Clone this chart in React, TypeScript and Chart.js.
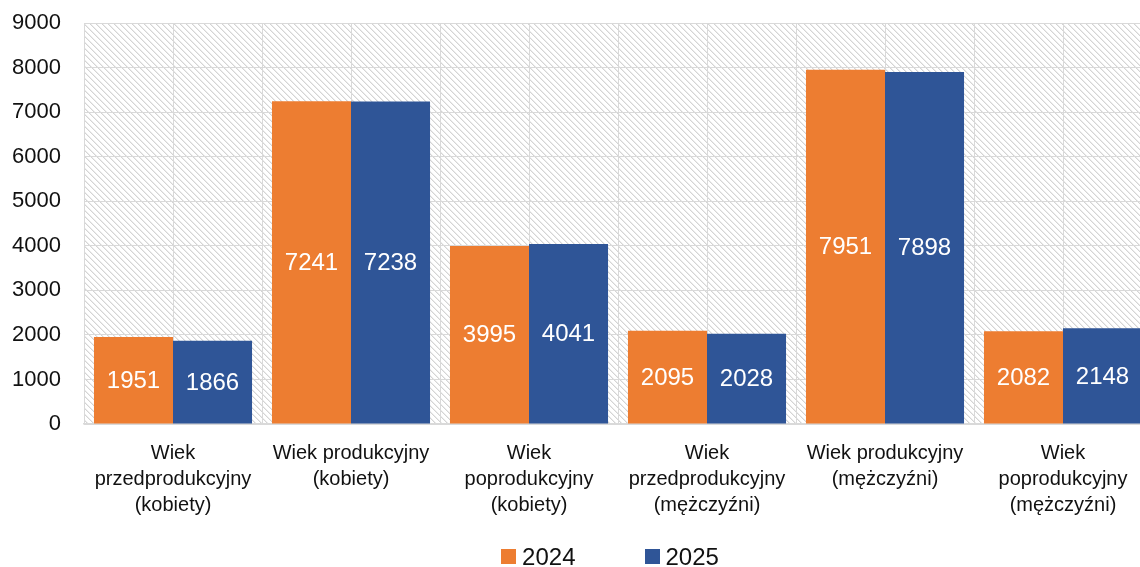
import React, { useEffect, useRef } from 'react';
import { Chart, registerables } from 'chart.js';

Chart.register(...registerables);

const categories: string[][] = [
  ['Wiek', 'przedprodukcyjny', '(kobiety)'],
  ['Wiek produkcyjny', '(kobiety)'],
  ['Wiek', 'poprodukcyjny', '(kobiety)'],
  ['Wiek', 'przedprodukcyjny', '(mężczyźni)'],
  ['Wiek produkcyjny', '(mężczyźni)'],
  ['Wiek', 'poprodukcyjny', '(mężczyźni)'],
];
const seriesLabels = ['2024', '2025'];
const values2024 = [1951, 7241, 3995, 2095, 7951, 2082];
const values2025 = [1866, 7238, 4041, 2028, 7898, 2148];
const seriesColors = ['#ED7D31', '#2F5597'];
const yMin = 0;
const yMax = 9000;
const yStep = 1000;

const FONT = "'Liberation Sans', Arial, sans-serif";
const GRID = '#D9D9D9';
const TEXT = '#111111';

function makePattern(ctx: CanvasRenderingContext2D) {
  const size = 6;
  const c = document.createElement('canvas');
  c.width = size;
  c.height = size;
  const pc = c.getContext('2d')!;
  const img = pc.createImageData(size, size);
  for (let y = 0; y < size; y++) {
    for (let x = 0; x < size; x++) {
      const d = (((x - y) % size) + size) % size;
      const v = d === 0 ? 212 : d === 1 ? 236 : 255;
      const i = (y * size + x) * 4;
      img.data[i] = v;
      img.data[i + 1] = v;
      img.data[i + 2] = v;
      img.data[i + 3] = 255;
    }
  }
  pc.putImageData(img, 0, 0);
  return ctx.createPattern(c, 'repeat');
}

const backgroundPlugin = {
  id: 'hatchBg',
  beforeDraw(chart: any) {
    const { ctx, chartArea } = chart;
    const pat = makePattern(ctx);
    ctx.save();
    ctx.fillStyle = '#ffffff';
    ctx.fillRect(0, 0, chart.width, chart.height);
    if (pat) {
      ctx.fillStyle = pat;
      ctx.fillRect(chartArea.left, chartArea.top, chartArea.right - chartArea.left, chartArea.bottom - chartArea.top);
    }
    ctx.restore();
  },
};

const centerLinesPlugin = {
  id: 'centerLines',
  beforeDatasetsDraw(chart: any) {
    const { ctx, chartArea, scales } = chart;
    ctx.save();
    ctx.strokeStyle = GRID;
    ctx.lineWidth = 1;
    for (let i = 0; i < categories.length; i++) {
      const x = Math.round(scales.x.getPixelForValue(i)) + 0.5;
      ctx.beginPath();
      ctx.moveTo(x, chartArea.top);
      ctx.lineTo(x, chartArea.bottom);
      ctx.stroke();
    }
    ctx.restore();
  },
};

const valueLabelsPlugin = {
  id: 'valueLabels',
  afterDatasetsDraw(chart: any) {
    const { ctx } = chart;
    ctx.save();
    ctx.font = `24px ${FONT}`;
    ctx.fillStyle = '#ffffff';
    ctx.textAlign = 'center';
    ctx.textBaseline = 'middle';
    chart.data.datasets.forEach((ds: any, di: number) => {
      const meta = chart.getDatasetMeta(di);
      meta.data.forEach((el: any, i: number) => {
        const v = ds.data[i];
        ctx.fillText(String(v), el.x, (el.y + el.base) / 2 + 1);
      });
    });
    ctx.restore();
  },
};

const legendPlugin = {
  id: 'customLegend',
  afterDraw(chart: any) {
    const { ctx, chartArea } = chart;
    ctx.save();
    ctx.font = `24px ${FONT}`;
    ctx.textBaseline = 'middle';
    ctx.textAlign = 'left';
    const box = 15;
    const gap = 6;
    const spacing = 69;
    const items = chart.data.datasets.map((ds: any) => ({
      label: ds.label,
      color: ds.backgroundColor,
      w: box + gap + ctx.measureText(ds.label).width,
    }));
    const total = items.reduce((s: number, it: any) => s + it.w, 0) + spacing * (items.length - 1);
    let x = (chartArea.left + chartArea.right) / 2 - total / 2 - 8;
    const cy = 557;
    items.forEach((it: any) => {
      ctx.fillStyle = it.color;
      ctx.fillRect(Math.round(x), cy - 8, box, box);
      ctx.fillStyle = TEXT;
      ctx.fillText(it.label, x + box + gap, cy + 1);
      x += it.w + spacing;
    });
    ctx.restore();
  },
};

export default function App() {
  const canvasRef = useRef<HTMLCanvasElement | null>(null);

  useEffect(() => {
    const canvas = canvasRef.current;
    if (!canvas) return;
    const chart = new Chart(canvas, {
      type: 'bar',
      data: {
        labels: categories,
        datasets: [
          {
            label: seriesLabels[0],
            data: values2024,
            backgroundColor: seriesColors[0],
            borderWidth: 0,
            barPercentage: 1,
            categoryPercentage: 0.888,
          },
          {
            label: seriesLabels[1],
            data: values2025,
            backgroundColor: seriesColors[1],
            borderWidth: 0,
            barPercentage: 1,
            categoryPercentage: 0.888,
          },
        ],
      },
      options: {
        responsive: false,
        maintainAspectRatio: false,
        animation: false,
        devicePixelRatio: 1,
        layout: { padding: { top: 23, right: 8, left: 0, bottom: 0 } },
        plugins: {
          legend: { display: false },
          tooltip: { enabled: false },
          title: { display: false },
        },
        scales: {
          x: {
            offset: true,
            grid: {
              offset: true,
              color: GRID,
              lineWidth: 1,
              drawTicks: false,
            },
            border: { display: true, color: GRID, width: 1.5 },
            ticks: {
              font: { family: FONT, size: 20, lineHeight: 1.3 },
              color: TEXT,
              padding: 16,
              maxRotation: 0,
              minRotation: 0,
              autoSkip: false,
            },
            afterFit(scale: any) {
              scale.height = 143;
              scale.paddingTop = 0;
              scale.paddingBottom = 0;
            },
          },
          y: {
            min: yMin,
            max: yMax,
            grid: { color: GRID, lineWidth: 1, drawTicks: false },
            border: { display: false },
            ticks: {
              stepSize: yStep,
              font: { family: FONT, size: 22 },
              color: TEXT,
              padding: 23,
              callback: (v: any) => String(v),
            },
            afterFit(scale: any) {
              scale.width = 84;
              scale.paddingTop = 0;
              scale.paddingBottom = 0;
            },
          },
        },
      },
      plugins: [backgroundPlugin, centerLinesPlugin, valueLabelsPlugin, legendPlugin],
    } as any);
    return () => chart.destroy();
  }, []);

  return (
    <div
      style={{
        position: 'fixed',
        left: 0,
        top: 0,
        width: 1140,
        height: 567,
        overflow: 'hidden',
        background: '#ffffff',
      }}
    >
      <canvas
        ref={canvasRef}
        width={1160}
        height={567}
        style={{ display: 'block', width: 1160, height: 567 }}
      />
    </div>
  );
}
